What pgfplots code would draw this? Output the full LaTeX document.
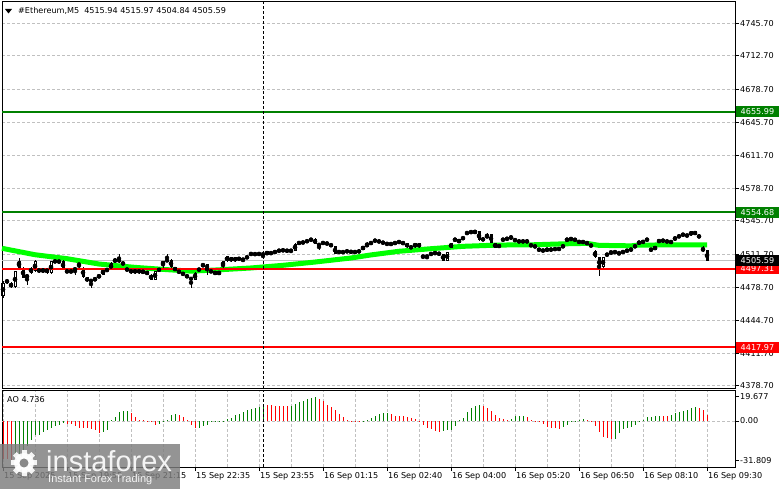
\documentclass[border=0pt]{standalone}
\usepackage{pgfplots}
\usepackage{pgfplotstable}
\pgfplotsset{compat=1.18}
\usepackage{fontspec}
\setmainfont{DejaVu Sans}
\newfontfamily\logofont{Liberation Sans}
\definecolor{lvgreen}{RGB}{0,128,0}
\definecolor{lvred}{RGB}{255,0,0}
\definecolor{maline}{RGB}{0,255,0}
\definecolor{gridc}{RGB}{192,192,192}
\definecolor{aogreen}{RGB}{0,128,0}
\definecolor{logogray}{RGB}{125,125,125}

\pgfplotstableread{
i o h l c ao g
0 4470.0 4485.0 4468.0 4483.0 -30.5 0
1 4486.3 4487.0 4482.0 4482.9 -31.2 0
2 4482.9 4483.5 4477.8 4478.5 -31.8 0
3 4478.5 4495.5 4478.0 4494.7 -29.5 1
4 4498.0 4508.2 4497.4 4504.8 -26.5 1
5 4498.1 4499.0 4487.5 4488.0 -23.5 1
6 4488.0 4492.0 4481.2 4491.3 -20.0 1
7 4493.0 4499.0 4492.5 4498.1 -15.8 1
8 4494.7 4506.5 4494.0 4504.8 -11.7 1
9 4497.4 4498.0 4493.0 4493.7 -11.0 1
10 4493.7 4498.0 4493.0 4497.4 -9.0 1
11 4493.0 4498.1 4492.5 4497.4 -7.1 1
12 4493.0 4505.5 4492.5 4504.8 -5.7 1
13 4505.8 4506.5 4503.0 4503.8 -4.1 1
14 4503.8 4506.0 4503.0 4505.5 -3.0 1
15 4505.5 4506.0 4496.0 4496.4 -1.6 1
16 4494.7 4496.4 4493.0 4494.4 -2.2 0
17 4494.4 4495.5 4493.7 4494.7 -2.7 0
18 4495.4 4498.5 4491.3 4498.1 -4.1 0
19 4501.4 4503.0 4498.0 4502.1 -5.3 0
20 4498.1 4499.0 4488.0 4488.6 -5.5 0
21 4488.6 4489.0 4484.0 4484.6 -5.7 0
22 4485.3 4486.0 4477.8 4485.0 -6.3 0
23 4485.3 4488.5 4485.0 4488.0 -7.6 0
24 4488.0 4492.0 4487.5 4491.3 -9.5 0
25 4491.3 4497.0 4491.0 4496.4 -9.0 1
26 4495.4 4497.4 4495.0 4496.4 -7.1 1
27 4496.4 4503.8 4496.0 4503.1 0.5 1
28 4503.8 4508.0 4503.0 4507.5 3.3 1
29 4507.5 4512.2 4503.1 4503.8 7.0 1
30 4503.8 4504.5 4501.0 4501.4 7.9 1
31 4496.8 4497.4 4495.4 4496.4 8.1 1
32 4496.4 4497.0 4492.5 4493.0 6.8 0
33 4493.0 4497.0 4492.5 4496.4 3.5 0
34 4496.4 4497.0 4492.5 4493.0 1.0 0
35 4493.0 4496.0 4492.5 4495.4 0.6 0
36 4494.7 4495.4 4491.0 4491.3 0.3 0
37 4491.3 4492.0 4486.0 4486.3 -0.8 0
38 4486.3 4495.4 4486.0 4494.7 -3.0 0
39 4496.0 4497.4 4495.0 4496.4 -2.5 1
40 4501.4 4505.5 4498.1 4504.8 -0.8 1
41 4504.8 4512.2 4504.5 4506.5 0.5 1
42 4506.5 4507.0 4498.1 4498.7 4.6 1
43 4498.7 4499.0 4495.0 4495.4 6.0 1
44 4495.4 4496.0 4492.5 4493.0 5.2 0
45 4493.0 4493.7 4490.5 4491.3 3.3 0
46 4491.3 4492.0 4487.5 4488.0 0.5 0
47 4488.0 4488.6 4477.8 4486.3 -3.5 0
48 4486.3 4493.7 4486.0 4493.0 -5.7 0
49 4496.4 4497.4 4495.4 4496.6 -5.5 1
50 4499.7 4502.4 4499.4 4502.1 -4.1 1
51 4502.1 4502.4 4491.3 4496.4 -3.0 1
52 4494.7 4495.4 4493.7 4494.9 -0.8 1
53 4494.7 4495.4 4491.0 4491.3 -0.3 1
54 4491.3 4495.4 4491.0 4494.7 0.1 1
55 4499.7 4505.5 4496.4 4504.8 0.3 1
56 4504.8 4510.5 4504.5 4509.9 1.4 1
57 4508.8 4509.5 4504.5 4504.8 2.7 1
58 4508.8 4509.5 4504.5 4504.8 4.6 1
59 4507.5 4508.2 4506.5 4507.3 6.0 1
60 4504.8 4508.5 4503.8 4508.2 7.3 1
61 4508.8 4509.6 4508.2 4509.0 8.7 1
62 4512.2 4513.0 4511.5 4512.4 9.5 1
63 4512.2 4512.8 4511.5 4512.0 10.6 1
64 4512.2 4513.0 4511.5 4512.4 11.4 1
65 4512.0 4513.0 4507.5 4512.2 13.6 1
66 4511.5 4515.3 4511.0 4514.9 12.8 0
67 4514.2 4514.5 4511.8 4512.2 12.7 0
68 4514.2 4515.0 4513.5 4514.4 12.6 0
69 4514.9 4516.6 4514.5 4516.3 12.5 0
70 4515.9 4516.6 4515.3 4516.1 12.4 0
71 4515.6 4516.3 4514.9 4515.4 12.3 0
72 4515.6 4516.3 4514.2 4515.8 12.6 1
73 4515.6 4523.0 4515.3 4522.3 14.0 1
74 4523.3 4524.0 4522.8 4523.5 15.4 1
75 4524.0 4524.5 4523.3 4523.8 16.6 1
76 4524.3 4526.4 4524.0 4526.0 18.0 1
77 4526.0 4527.8 4525.7 4527.4 19.0 1
78 4527.4 4528.0 4522.0 4522.3 19.677 1
79 4521.7 4522.0 4516.6 4521.5 18.2 0
80 4523.3 4524.0 4522.8 4523.5 16.0 0
81 4523.3 4523.8 4522.0 4522.3 13.3 0
82 4522.3 4522.6 4519.7 4520.0 11.4 0
83 4520.0 4520.3 4511.8 4512.2 8.7 0
84 4514.2 4515.0 4513.5 4514.4 6.0 0
85 4514.2 4515.6 4512.8 4514.0 3.3 0
86 4514.9 4515.6 4514.2 4515.1 0.5 0
87 4515.6 4516.0 4512.8 4513.2 0.1 0
88 4514.2 4515.0 4513.5 4514.4 -0.8 0
89 4514.2 4516.0 4513.8 4515.6 -1.0 0
90 4516.6 4520.5 4516.3 4520.0 -0.5 1
91 4520.0 4524.0 4519.7 4522.3 0.5 1
92 4522.3 4524.8 4522.0 4524.3 2.5 1
93 4525.7 4526.4 4525.0 4525.9 4.1 1
94 4525.0 4525.7 4524.3 4524.8 6.0 1
95 4525.0 4525.5 4522.0 4522.3 6.2 1
96 4523.3 4523.6 4521.3 4521.7 6.8 1
97 4522.3 4523.0 4521.7 4522.5 5.4 0
98 4523.3 4524.0 4522.6 4523.5 4.4 0
99 4524.3 4525.0 4523.7 4524.5 4.1 0
100 4524.3 4524.6 4522.0 4522.3 4.0 0
101 4523.3 4523.6 4518.6 4519.0 3.5 0
102 4519.0 4519.6 4518.3 4519.2 2.2 0
103 4519.0 4523.6 4518.6 4523.3 1.4 0
104 4523.3 4523.6 4518.6 4519.0 -1.0 0
105 4509.9 4510.5 4508.2 4509.7 -3.3 0
106 4509.9 4510.5 4507.5 4510.1 -5.4 0
107 4511.5 4513.5 4511.0 4513.2 -6.8 0
108 4512.2 4514.5 4511.8 4514.2 -7.9 0
109 4514.2 4514.5 4510.5 4510.9 -8.7 0
110 4512.2 4512.5 4505.0 4505.5 -7.9 1
111 4505.5 4514.5 4505.0 4514.2 -7.4 1
112 4518.3 4523.8 4518.0 4523.3 -7.0 1
113 4525.0 4528.8 4524.6 4528.4 -3.8 1
114 4523.3 4527.8 4523.0 4527.4 0.8 1
115 4527.4 4529.5 4527.0 4529.1 2.2 1
116 4533.4 4534.0 4532.8 4533.6 7.6 1
117 4534.5 4535.1 4533.8 4534.3 10.3 1
118 4533.4 4536.2 4533.0 4535.8 12.3 1
119 4535.1 4535.5 4525.0 4526.7 13.1 1
120 4528.4 4528.8 4525.3 4525.7 12.5 0
121 4528.4 4533.4 4528.0 4531.8 10.9 0
122 4532.4 4532.8 4523.0 4523.3 8.4 0
123 4523.3 4523.6 4518.0 4518.3 4.9 0
124 4521.7 4522.0 4518.6 4519.0 2.7 0
125 4526.7 4527.4 4526.0 4526.9 1.9 0
126 4527.7 4528.4 4527.0 4527.5 1.1 0
127 4527.7 4530.5 4527.4 4530.1 1.9 1
128 4527.7 4528.0 4524.6 4525.0 3.8 1
129 4525.7 4526.0 4524.0 4524.3 4.1 1
130 4525.7 4526.0 4524.0 4524.3 4.2 1
131 4526.7 4527.0 4523.0 4523.3 3.3 0
132 4521.0 4521.7 4520.3 4521.2 0.8 0
133 4520.0 4520.6 4519.3 4519.8 0.3 0
134 4518.3 4518.6 4514.5 4514.9 -0.1 0
135 4514.9 4517.0 4514.5 4516.6 -2.7 0
136 4514.9 4518.6 4514.5 4518.3 -4.6 0
137 4516.6 4517.3 4516.0 4516.8 -5.4 0
138 4517.3 4517.8 4516.6 4517.1 -5.7 0
139 4517.3 4518.0 4516.6 4517.5 -6.3 0
140 4520.0 4520.6 4519.3 4520.2 -4.6 1
141 4525.0 4528.8 4524.6 4528.4 -3.3 1
142 4527.4 4528.0 4526.7 4527.6 -1.1 1
143 4526.7 4527.4 4526.0 4526.5 -0.3 1
144 4525.7 4526.0 4523.0 4523.3 0.8 1
145 4524.3 4525.0 4523.7 4524.5 1.3 1
146 4523.3 4524.0 4522.6 4523.1 1.0 0
147 4521.7 4522.0 4519.6 4520.0 -0.1 0
148 4515.6 4516.0 4508.5 4508.8 -3.8 0
149 4508.8 4509.0 4489.6 4498.7 -8.7 0
150 4498.7 4509.2 4498.4 4508.8 -13.3 0
151 4511.5 4512.2 4510.9 4511.7 -14.2 0
152 4513.2 4515.3 4511.5 4514.9 -14.7 0
153 4514.2 4514.9 4513.5 4514.0 -14.4 1
154 4513.2 4513.9 4511.5 4513.4 -10.1 1
155 4514.2 4514.9 4513.5 4514.4 -6.5 1
156 4515.6 4516.3 4514.9 4515.4 -6.0 1
157 4516.6 4517.3 4516.0 4516.8 -5.2 1
158 4520.0 4520.6 4519.3 4520.2 -3.3 1
159 4522.3 4525.5 4522.0 4525.0 -1.1 1
160 4525.7 4526.0 4523.0 4523.3 0.8 1
161 4526.7 4527.4 4526.0 4526.9 3.5 1
162 4518.3 4518.6 4514.5 4514.9 3.6 1
163 4516.6 4520.3 4516.3 4520.0 4.1 1
164 4524.3 4526.7 4524.0 4526.4 4.4 1
165 4525.7 4526.4 4525.0 4525.9 4.3 0
166 4525.0 4525.7 4524.3 4524.8 3.8 0
167 4524.3 4525.0 4523.7 4524.5 4.9 1
168 4526.7 4529.5 4526.4 4529.1 6.5 1
169 4529.1 4531.5 4528.8 4531.1 7.6 1
170 4531.1 4532.8 4530.8 4532.4 8.4 1
171 4531.8 4532.1 4529.8 4530.1 9.3 1
172 4531.1 4535.5 4530.8 4535.1 10.3 1
173 4535.1 4535.5 4531.5 4531.8 11.4 1
174 4531.8 4532.1 4528.0 4528.4 10.9 0
175 4518.3 4520.0 4514.5 4514.9 8.7 0
176 4515.94 4515.97 4504.84 4505.59 4.736 0
}\bars

\newcommand{\mtfont}{\fontsize{8.1bp}{9bp}\selectfont}
\pgfplotsset{
  mtframe/.style={
    scale only axis, anchor=south west, width=733bp,
    xmin=-0.25, xmax=183, clip=false,
    axis line style={black, line width=1bp},
    tick style={black, line width=1bp},
    tick align=outside, major tick length=4bp, minor tick length=0pt,
    major grid style={gridc, line width=1bp, dash pattern=on 3bp off 2bp},
    minor grid style={gridc, line width=1bp, dash pattern=on 3bp off 2bp},
    ytick pos=right, yticklabel pos=right,
    tick label style={font=\mtfont},
    yticklabel style={anchor=west, inner sep=1bp},
  },
}

\begin{document}
\begin{tikzpicture}
\path[use as bounding box, fill=white] (0,0) rectangle (781bp,489bp);

% ---------- main price panel ----------
\begin{axis}[mtframe,
  at={(2bp,100bp)}, height=387bp,
  ymin=4375.6, ymax=4767.3,
  xtick=\empty, minor xtick={0,8,...,176}, xminorgrids,
  ytick={4378.7,4411.7,4444.7,4478.7,4511.7,4545.7,4578.7,4611.7,4645.7,4678.7,4712.7,4745.7},
  yticklabels={4378.70,4411.70,4444.70,4478.70,4511.70,4545.70,4578.70,4611.70,4645.70,4678.70,4712.70,4745.70},
  ymajorgrids,
]
% current price line
\addplot[gridc, line width=1bp] coordinates {(-0.25,4505.59) (183,4505.59)};
% moving average
\addplot[maline, line width=5bp] coordinates {
(-0.25,4518.0) (8,4511.5) (16,4507.5) (24,4502.1) (33,4498.7) (41,4496.4)
(47,4494.9) (53,4496.0) (62,4498.1) (70,4500.8) (78,4504.1) (87,4508.2)
(92,4511.3) (99,4515.0) (107,4517.6) (115,4520.0) (124,4521.3) (132,4521.5)
(140,4522.5) (146,4523.0) (149,4521.0) (157,4520.5) (159,4521.3) (176,4521.5)};
% wicks
\addplot[only marks, mark=none, error bars/.cd, y dir=both, y explicit, error mark=none,
  error bar style={draw=black, line width=1bp}]
  table[x=i, y expr={(\thisrow{h}+\thisrow{l})/2}, y error expr={(\thisrow{h}-\thisrow{l})/2}] {\bars};
% bodies (outline)
\addplot[only marks, mark=none, error bars/.cd, y dir=both, y explicit, error mark=none,
  error bar style={draw=black, line width=3bp}]
  table[x=i, y expr={(\thisrow{o}+\thisrow{c})/2}, y error expr={max(abs(\thisrow{o}-\thisrow{c})/2,0.5)}] {\bars};
% bodies (white fill for rising candles)
\addplot[only marks, mark=none, error bars/.cd, y dir=both, y explicit, error mark=none,
  error bar style={draw=white, line width=1bp}]
  table[x=i, y expr={\thisrow{c}-\thisrow{o}>2.2 ? (\thisrow{o}+\thisrow{c})/2 : nan},
        y error expr={(\thisrow{c}-\thisrow{o})/2-1}] {\bars};
% levels
\addplot[lvgreen, line width=2bp] coordinates {(-0.25,4655.99) (183,4655.99)};
\addplot[lvgreen, line width=2bp] coordinates {(-0.25,4554.68) (183,4554.68)};
\addplot[lvred, line width=2bp] coordinates {(-0.25,4497.31) (183,4497.31)};
\addplot[lvred, line width=2bp] coordinates {(-0.25,4417.97) (183,4417.97)};
% period separator
\addplot[black, line width=1bp, dash pattern=on 3bp off 2bp] coordinates {(65,4375.6) (65,4767.3)};
\coordinate (L1) at (axis cs:183,4655.99);
\coordinate (L2) at (axis cs:183,4554.68);
\coordinate (L3) at (axis cs:183,4497.31);
\coordinate (L4) at (axis cs:183,4417.97);
\coordinate (L5) at (axis cs:183,4505.59);
\end{axis}

% ---------- AO panel ----------
\begin{axis}[mtframe,
  at={(2bp,22bp)}, height=76bp,
  ymin=-37.4, ymax=24.4,
  xtick={0,16,...,176}, xtick pos=left,
  xticklabels={15 Sep 2025,15 Sep 19:55,15 Sep 21:15,15 Sep 22:35,15 Sep 23:55,16 Sep 01:15,16 Sep 02:40,16 Sep 04:00,16 Sep 05:20,16 Sep 06:50,16 Sep 08:10,16 Sep 09:30},
  xticklabel style={anchor=north west, inner sep=1bp, xshift=0bp},
  minor xtick={0,8,...,176}, xminorgrids,
  ytick={-31.809,0,19.677}, yticklabels={-31.809,0.00,19.677},
]
\addplot[gridc, line width=1bp, dash pattern=on 3bp off 2bp] coordinates {(-0.25,0) (183,0)};
\addplot[ycomb, aogreen, line width=1bp, mark=none] table[x=i, y expr={\thisrow{g}==1 ? \thisrow{ao} : nan}] {\bars};
\addplot[ycomb, lvred, line width=1bp, mark=none] table[x=i, y expr={\thisrow{g}==0 ? \thisrow{ao} : nan}] {\bars};
\addplot[black, line width=1bp, dash pattern=on 3bp off 2bp] coordinates {(65,-37.4) (65,24.4)};
\end{axis}

% level labels on the price scale
\tikzset{lvlbox/.style={anchor=west, xshift=1bp, text=white, inner xsep=4.5bp, inner ysep=0pt,
  minimum height=11bp, font=\mtfont}}
\node[lvlbox, fill=lvgreen] at (L1) {4655.99};
\node[lvlbox, fill=lvgreen] at (L2) {4554.68};
\node[lvlbox, fill=lvred] at (L3) {4497.31};
\node[lvlbox, fill=lvred] at (L4) {4417.97};
\node[lvlbox, fill=black] at (L5) {4505.59};

% title
\fill[black] (5bp,480bp) -- (12bp,480bp) -- (8.5bp,475.5bp) -- cycle;
\node[anchor=west, inner sep=0pt, font=\mtfont] at (18bp,478bp)
  {\#Ethereum,M5\hspace{5bp}4515.94 4515.97 4504.84 4505.59};
\node[anchor=west, inner sep=0pt, font=\mtfont] at (7bp,89bp) {AO 4.736};

% watermark
\begin{scope}[opacity=0.82]
\fill[logogray] (0,0) rectangle (180bp,45bp);
\end{scope}
\begin{scope}[opacity=0.9]
\fill[white] (24bp,26bp) circle (10bp);
\foreach \a in {0,45,...,315}
  \fill[white, rotate around={\a:(24bp,26bp)}] (21.5bp,26bp) rectangle (26.5bp,39bp);
\fill[logogray] (24bp,26bp) circle (4.5bp);
\node[anchor=west, inner sep=0pt, text=white, font=\logofont\fontsize{29bp}{30bp}\selectfont] at (46bp,28bp) {instaforex};
\node[anchor=west, inner sep=0pt, text=white, font=\logofont\fontsize{11bp}{12bp}\selectfont] at (48bp,9bp) {Instant Forex Trading};
\end{scope}
\end{tikzpicture}
\end{document}
